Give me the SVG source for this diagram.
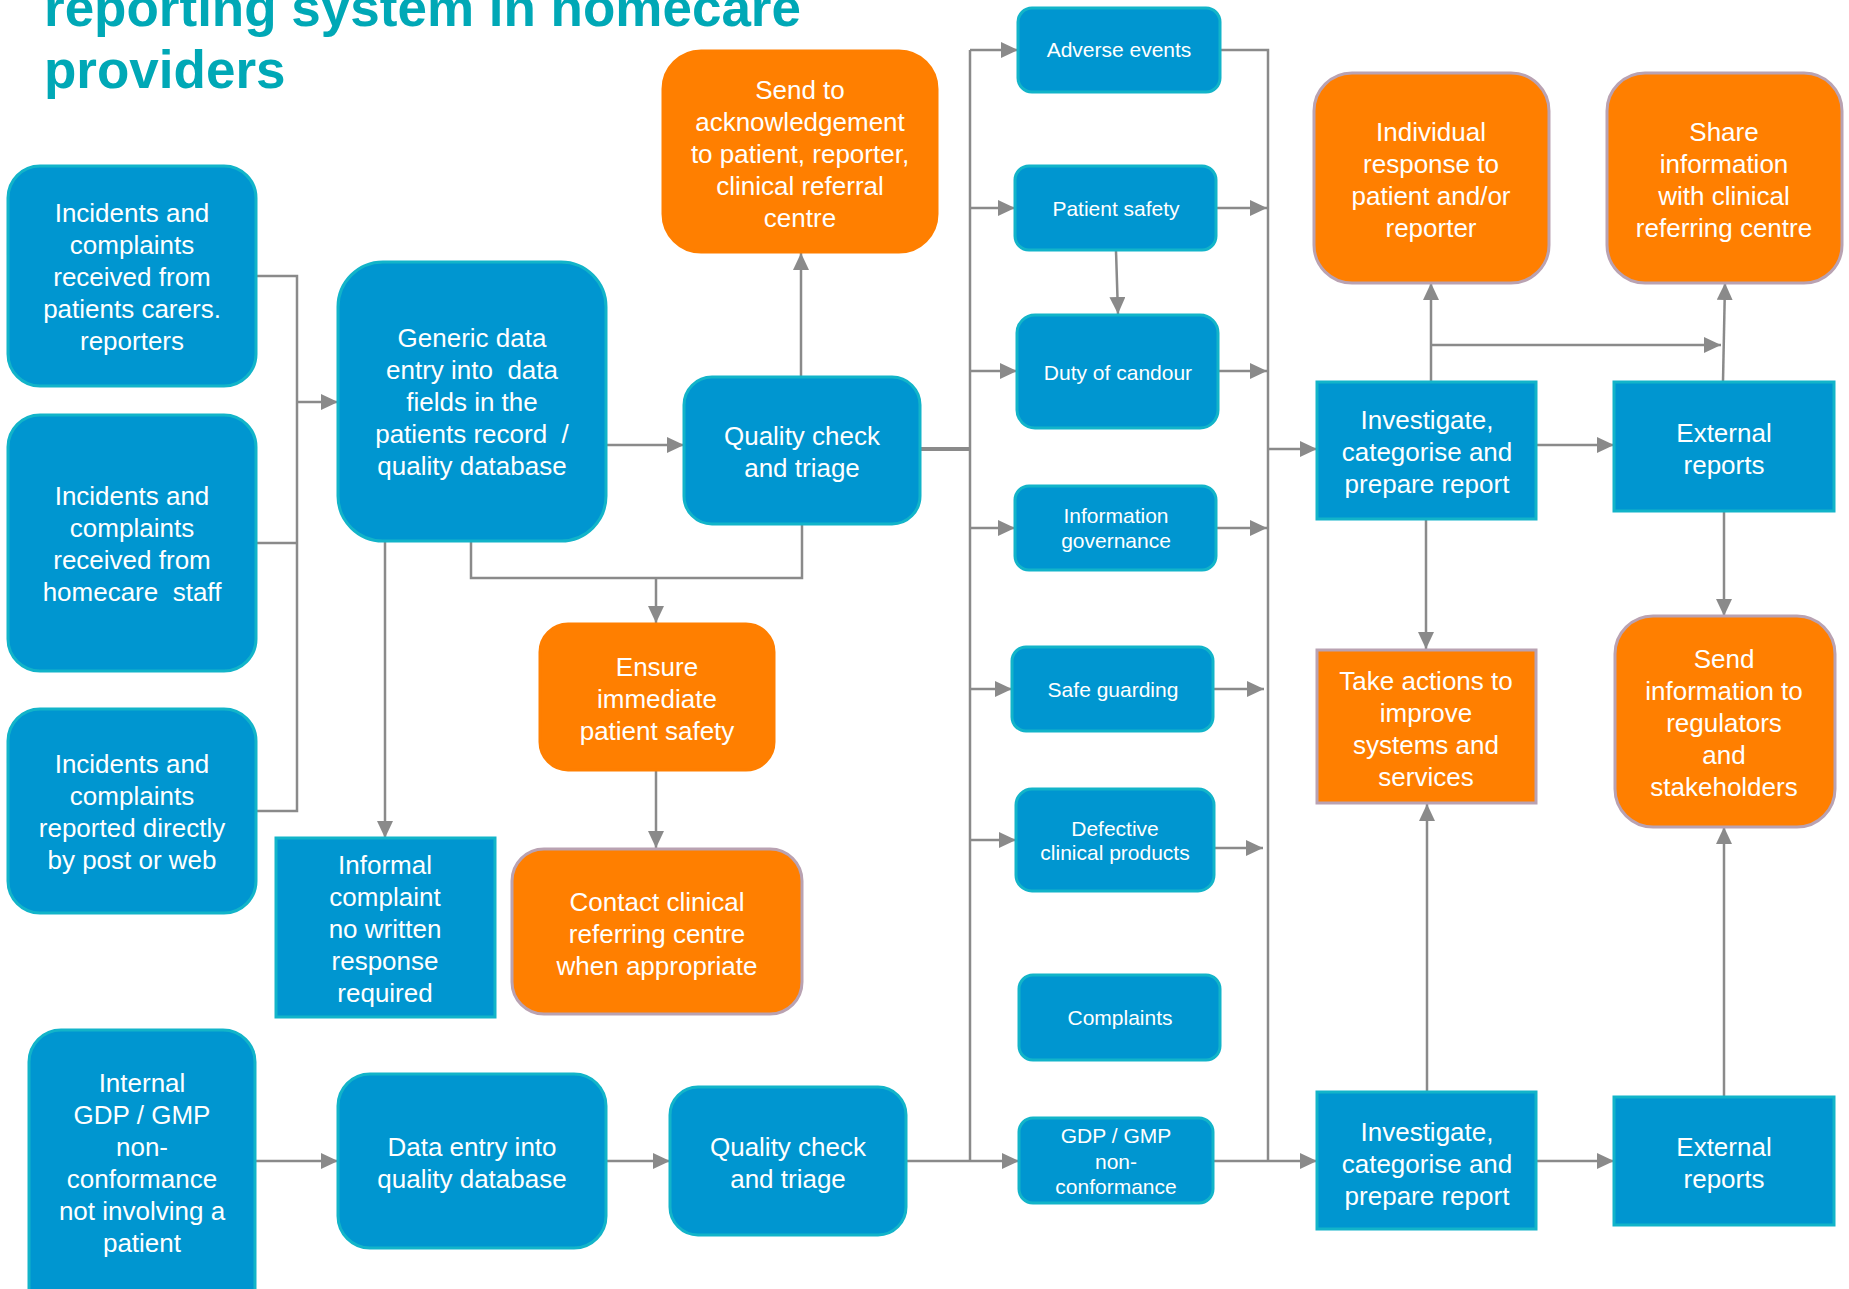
<svg xmlns="http://www.w3.org/2000/svg" width="1849" height="1289" viewBox="0 0 1849 1289">
<defs>
<marker id="ah" markerUnits="userSpaceOnUse" markerWidth="18" markerHeight="16" refX="17" refY="8" orient="auto">
<path d="M0,0 L17,8 L0,16 z" fill="#8a8a8a"/>
</marker>
<style>
.b{fill:#0096d0;stroke:#12b4c9;stroke-width:3}
.o{fill:#ff7f00;stroke:#ff7f00;stroke-width:3}
.op{fill:#ff7f00;stroke:#b9a2b2;stroke-width:3}
.t{font-family:"Liberation Sans",Arial,sans-serif;font-size:26px;fill:#fff;text-anchor:middle}
.s{font-family:"Liberation Sans",Arial,sans-serif;font-size:21px;fill:#fff;text-anchor:middle}
.c{fill:none;stroke:#8a8a8a;stroke-width:2.5}
.title{font-family:"Liberation Sans",Arial,sans-serif;font-size:53px;font-weight:bold;fill:#00a8b6}
</style>
</defs>
<rect width="1849" height="1289" fill="#fff"/>
<g id="title">
<text class="title" x="44" y="26">reporting system in homecare</text>
<text class="title" x="44" y="88">providers</text>
</g>
<g id="connectors">
<path class="c" d="M256,276 H297 V811 H256 M256,543 H297"/>
<path class="c" d="M297,402 H338" marker-end="url(#ah)"/>
<path class="c" d="M606,445 H684" marker-end="url(#ah)"/>
<path class="c" d="M801,377 V253" marker-end="url(#ah)"/>
<path class="c" d="M471,541 V578 H802 V524"/>
<path class="c" d="M656,578 V623" marker-end="url(#ah)"/>
<path class="c" d="M385,541 V838" marker-end="url(#ah)"/>
<path class="c" d="M656,770 V848" marker-end="url(#ah)"/>
<path class="c" d="M921,449 H970" style="stroke-width:4"/>
<path class="c" d="M970,50 V1161"/>
<path class="c" d="M970,50 H1018" marker-end="url(#ah)"/>
<path class="c" d="M970,208 H1015" marker-end="url(#ah)"/>
<path class="c" d="M970,371 H1017" marker-end="url(#ah)"/>
<path class="c" d="M970,528 H1015" marker-end="url(#ah)"/>
<path class="c" d="M970,689 H1012" marker-end="url(#ah)"/>
<path class="c" d="M970,840 H1016" marker-end="url(#ah)"/>
<path class="c" d="M906,1161 H1019" marker-end="url(#ah)"/>
<path class="c" d="M1116,251 L1118,314" marker-end="url(#ah)"/>
<path class="c" d="M1220,50 H1268 V1161"/>
<path class="c" d="M1216,208 H1267" marker-end="url(#ah)"/>
<path class="c" d="M1217,371 H1267" marker-end="url(#ah)"/>
<path class="c" d="M1216,528 H1267" marker-end="url(#ah)"/>
<path class="c" d="M1213,689 H1264" marker-end="url(#ah)"/>
<path class="c" d="M1214,848 H1263" marker-end="url(#ah)"/>
<path class="c" d="M1268,449 H1317" marker-end="url(#ah)"/>
<path class="c" d="M1213,1161 H1317" marker-end="url(#ah)"/>
<path class="c" d="M1536,445 H1614" marker-end="url(#ah)"/>
<path class="c" d="M1431,381 V283" marker-end="url(#ah)"/>
<path class="c" d="M1431,345 H1721" marker-end="url(#ah)"/>
<path class="c" d="M1723,381 L1725,283" marker-end="url(#ah)"/>
<path class="c" d="M1426,519 V649" marker-end="url(#ah)"/>
<path class="c" d="M1427,1092 V804" marker-end="url(#ah)"/>
<path class="c" d="M1724,511 V616" marker-end="url(#ah)"/>
<path class="c" d="M1724,1097 V827" marker-end="url(#ah)"/>
<path class="c" d="M1536,1161 H1614" marker-end="url(#ah)"/>
<path class="c" d="M255,1161 H338" marker-end="url(#ah)"/>
<path class="c" d="M606,1161 H670" marker-end="url(#ah)"/>
</g>
<g id="n1"><rect class="b" x="8" y="166" width="248" height="220" rx="32"/>
<text class="t" x="132" y="222">Incidents and</text><text class="t" x="132" y="254">complaints</text><text class="t" x="132" y="286">received from</text><text class="t" x="132" y="318">patients carers.</text><text class="t" x="132" y="350">reporters</text></g>
<g id="n2"><rect class="b" x="8" y="415" width="248" height="256" rx="32"/>
<text class="t" x="132" y="505">Incidents and</text><text class="t" x="132" y="537">complaints</text><text class="t" x="132" y="569">received from</text><text class="t" x="132" y="601" xml:space="preserve">homecare  staff</text></g>
<g id="n3"><rect class="b" x="8" y="709" width="248" height="204" rx="32"/>
<text class="t" x="132" y="773">Incidents and</text><text class="t" x="132" y="805">complaints</text><text class="t" x="132" y="837">reported directly</text><text class="t" x="132" y="869">by post or web</text></g>
<g id="n4"><rect class="b" x="29" y="1030" width="226" height="300" rx="32"/>
<text class="t" x="142" y="1092">Internal</text><text class="t" x="142" y="1124">GDP / GMP</text><text class="t" x="142" y="1156">non-</text><text class="t" x="142" y="1188">conformance</text><text class="t" x="142" y="1220">not involving a</text><text class="t" x="142" y="1252">patient</text></g>
<g id="n5"><rect class="b" x="338" y="262" width="268" height="279" rx="45"/>
<text class="t" x="472" y="347">Generic data</text><text class="t" x="472" y="379" xml:space="preserve">entry into  data</text><text class="t" x="472" y="411">fields in the</text><text class="t" x="472" y="443" xml:space="preserve">patients record  /</text><text class="t" x="472" y="475">quality database</text></g>
<g id="n6"><rect class="b" x="276" y="838" width="219" height="179"/>
<text class="t" x="385" y="874">Informal</text><text class="t" x="385" y="906">complaint</text><text class="t" x="385" y="938">no written</text><text class="t" x="385" y="970">response</text><text class="t" x="385" y="1002">required</text></g>
<g id="n7"><rect class="b" x="338" y="1074" width="268" height="174" rx="32"/>
<text class="t" x="472" y="1156">Data entry into</text><text class="t" x="472" y="1188">quality database</text></g>
<g id="n8"><rect class="o" x="663" y="51" width="274" height="201" rx="38"/>
<text class="t" x="800" y="99">Send to</text><text class="t" x="800" y="131">acknowledgement</text><text class="t" x="800" y="163">to patient, reporter,</text><text class="t" x="800" y="195">clinical referral</text><text class="t" x="800" y="227">centre</text></g>
<g id="n9"><rect class="b" x="684" y="377" width="236" height="147" rx="28"/>
<text class="t" x="802" y="445">Quality check</text><text class="t" x="802" y="477">and triage</text></g>
<g id="n10"><rect class="o" x="540" y="624" width="234" height="146" rx="28"/>
<text class="t" x="657" y="676">Ensure</text><text class="t" x="657" y="708">immediate</text><text class="t" x="657" y="740">patient safety</text></g>
<g id="n11"><rect class="op" x="512" y="849" width="290" height="165" rx="32"/>
<text class="t" x="657" y="911">Contact clinical</text><text class="t" x="657" y="943">referring centre</text><text class="t" x="657" y="975">when appropriate</text></g>
<g id="n12"><rect class="b" x="670" y="1087" width="236" height="148" rx="28"/>
<text class="t" x="788" y="1156">Quality check</text><text class="t" x="788" y="1188">and triage</text></g>
<g id="n13"><rect class="b" x="1018" y="8" width="202" height="84" rx="14"/>
<text class="s" x="1119" y="57">Adverse events</text></g>
<g id="n14"><rect class="b" x="1015" y="166" width="201" height="84" rx="14"/>
<text class="s" x="1116" y="216">Patient safety</text></g>
<g id="n15"><rect class="b" x="1017" y="315" width="201" height="113" rx="18"/>
<text class="s" x="1118" y="380">Duty of candour</text></g>
<g id="n16"><rect class="b" x="1015" y="486" width="201" height="84" rx="14"/>
<text class="s" x="1116" y="523">Information</text><text class="s" x="1116" y="548">governance</text></g>
<g id="n17"><rect class="b" x="1012" y="647" width="201" height="84" rx="14"/>
<text class="s" x="1113" y="697">Safe guarding</text></g>
<g id="n18"><rect class="b" x="1016" y="789" width="198" height="102" rx="16"/>
<text class="s" x="1115" y="836">Defective</text><text class="s" x="1115" y="860">clinical products</text></g>
<g id="n19"><rect class="b" x="1019" y="975" width="201" height="85" rx="14"/>
<text class="s" x="1120" y="1025">Complaints</text></g>
<g id="n20"><rect class="b" x="1019" y="1118" width="194" height="85" rx="14"/>
<text class="s" x="1116" y="1143">GDP / GMP</text><text class="s" x="1116" y="1169">non-</text><text class="s" x="1116" y="1194">conformance</text></g>
<g id="n21"><rect class="op" x="1314" y="73" width="235" height="210" rx="38"/>
<text class="t" x="1431" y="141">Individual</text><text class="t" x="1431" y="173">response to</text><text class="t" x="1431" y="205">patient and/or</text><text class="t" x="1431" y="237">reporter</text></g>
<g id="n22"><rect class="b" x="1317" y="382" width="219" height="137"/>
<text class="t" x="1427" y="429">Investigate,</text><text class="t" x="1427" y="461">categorise and</text><text class="t" x="1427" y="493">prepare report</text></g>
<g id="n23"><rect class="op" x="1317" y="650" width="219" height="153"/>
<text class="t" x="1426" y="690">Take actions to</text><text class="t" x="1426" y="722">improve</text><text class="t" x="1426" y="754">systems and</text><text class="t" x="1426" y="786">services</text></g>
<g id="n24"><rect class="b" x="1317" y="1092" width="219" height="137"/>
<text class="t" x="1427" y="1141">Investigate,</text><text class="t" x="1427" y="1173">categorise and</text><text class="t" x="1427" y="1205">prepare report</text></g>
<g id="n25"><rect class="op" x="1607" y="73" width="235" height="210" rx="38"/>
<text class="t" x="1724" y="141">Share</text><text class="t" x="1724" y="173">information</text><text class="t" x="1724" y="205">with clinical</text><text class="t" x="1724" y="237">referring centre</text></g>
<g id="n26"><rect class="b" x="1614" y="382" width="220" height="129"/>
<text class="t" x="1724" y="442">External</text><text class="t" x="1724" y="474">reports</text></g>
<g id="n27"><rect class="op" x="1615" y="616" width="220" height="211" rx="38"/>
<text class="t" x="1724" y="668">Send</text><text class="t" x="1724" y="700">information to</text><text class="t" x="1724" y="732">regulators</text><text class="t" x="1724" y="764">and</text><text class="t" x="1724" y="796">stakeholders</text></g>
<g id="n28"><rect class="b" x="1614" y="1097" width="220" height="128"/>
<text class="t" x="1724" y="1156">External</text><text class="t" x="1724" y="1188">reports</text></g>
</svg>
